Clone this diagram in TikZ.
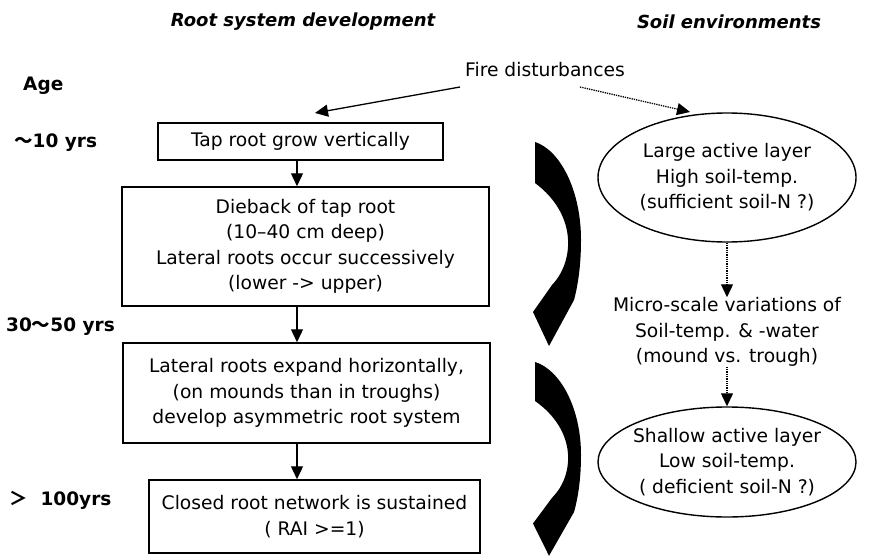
\documentclass[tikz,border=0pt]{standalone}
\usepackage{fontspec}
\setmainfont{DejaVu Sans}
\newfontfamily\cjk{Noto Sans CJK JP}
\usetikzlibrary{arrows.meta, shapes.geometric}

% thick bent arrow between the stages
\newcommand{\rootturn}{%
  \fill (0,0) .. controls (25,8) and (46,48) .. (46,98)
        .. controls (46,123) and (43,143) .. (39,158) -- (14,204) -- (-2,170)
        -- (17,143) .. controls (39,120) and (43,73) .. (0,41) -- cycle;}

\begin{document}
\begin{tikzpicture}[x=1pt, y=-1pt,
        every node/.style={font=\fontsize{18.7}{25.5}\selectfont},
        stage/.style={draw, line width=1.5pt, align=center, inner sep=0pt},
        soil/.style={draw, ellipse, line width=1.4pt, align=center, inner xsep=-10pt, inner ysep=0pt},
        age/.style={anchor=west, inner sep=0pt, font=\fontsize{18.5}{22}\selectfont\bfseries},
        head/.style={font=\fontsize{18}{21}\selectfont\bfseries\itshape},
        arr/.style={line width=1.3pt, -{Triangle[length=13pt, width=12pt]}},
        dotarr/.style={arr, densely dotted}]

        \useasboundingbox (0,0) rectangle (874,556);

        \node[head] (rsd) at (303,22) {Root system development};
        \node[head] (soilh) at (729,22) {Soil environments};

        \node[age] (age) at (23,86) {Age};
        \node[age] (y10) at (14,143) {{\cjk 〜}10 yrs};
        \node[age] (y30) at (6,327) {30{\cjk 〜}50 yrs};
        \node[age] (y100) at (9,500) {{\cjk ＞}\ \ 100yrs};

        \node (fire) at (545,70) {Fire disturbances};

        \node[stage, minimum width=285pt, minimum height=37pt] (tap) at (300.5,141.5) {Tap root grow vertically};
        \node[stage, minimum width=367pt, minimum height=119pt] (dieback) at (305.5,246.5)
                {Dieback of tap root\\(10--40 cm deep)\\Lateral roots occur successively\\(lower -> upper)};
        \node[stage, minimum width=367pt, minimum height=100pt] (expand) at (306.5,393)
                {Lateral roots expand horizontally,\\(on mounds than in troughs)\\develop asymmetric root system};
        \node[stage, minimum width=331pt, minimum height=73pt] (closed) at (314.5,516.5)
                {Closed root network is sustained\\( RAI >=1)};

        \node[soil, minimum width=258pt, minimum height=129pt] (large) at (727,177.5)
                {Large active layer\\High soil-temp.\\(sufficient soil-N ?)};
        \node[inner sep=0pt, align=center] (micro) at (727,332)
                {Micro-scale variations of\\Soil-temp. \& -water\\(mound vs. trough)};
        \node[soil, minimum width=258pt, minimum height=110pt] (shallow) at (727,462)
                {Shallow active layer\\Low soil-temp.\\( deficient soil-N ?)};

        \coordinate (colx) at (297,0);
        \draw[arr] (tap.south -| colx) -- (dieback.north -| colx);
        \draw[arr] (dieback.south -| colx) -- (expand.north -| colx);
        \draw[arr] (expand.south -| colx) -- (closed.north -| colx);

        \coordinate (fireL) at (460,87);
        \coordinate (tapIn) at (315,113);
        \coordinate (fireR) at (580,87);
        \coordinate (largeIn) at (690,112);
        \draw[arr] (fireL) -- (tapIn);
        \draw[dotarr] (fireR) -- (largeIn);
        \draw[dotarr] (large.south) -- (micro.north);
        \draw[dotarr] (micro.south) -- (shallow.north);

        \begin{scope}[shift={(535,142)}]
        \rootturn
        \end{scope}
        \begin{scope}[shift={(535,362)}, yscale=0.95]
        \rootturn
        \end{scope}
\end{tikzpicture}
\end{document}
